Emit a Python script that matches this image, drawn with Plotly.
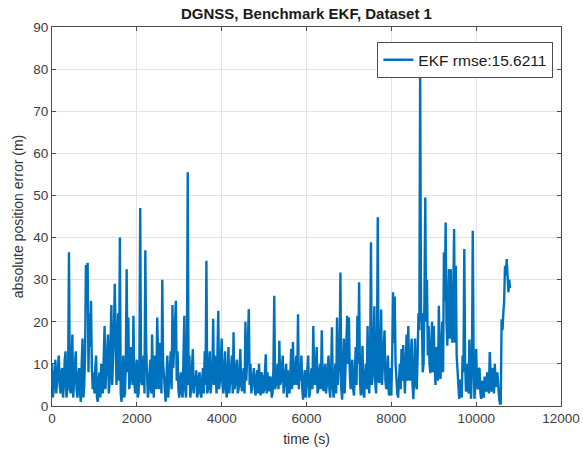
import numpy as np
import plotly.graph_objects as go

# absolute position error.
# err_* : value every 40 s (starting at t = 0)
# mid_* : value in between, at t + 20 s
step_s = 20

err_0_1000 = [10, 4, 11, 6, 12, 3, 9, 5, 13, 4, 36.5, 3, 17, 6, 13, 2, 9, 1, 16, 5, 33.5, 34, 22, 25, 4]
mid_0_1000 = [2, 9, 3, 10, 5, 8, 2, 11, 2, 8, 4, 10, 2, 9, 4, 7, 3, 10, 2, 12, 32, 8, 14, 9, 8]
err_1000_2000 = [3, 12, 1, 8, 10, 3, 19, 8, 17, 6, 24, 10, 29, 5, 22, 40, 1, 12, 3, 32.5, 21, 6, 13, 21.4, 3]
mid_1000_2000 = [9, 2, 6, 2, 5, 12, 4, 14, 3, 15, 5, 18, 8, 15, 6, 3, 7, 2, 10, 8, 4, 14, 5, 6, 8]
err_2000_3000 = [11, 3, 47, 5, 12, 37, 9, 4, 11, 17, 2, 9, 21, 4, 12, 30, 6, 1, 12, 6, 13, 24, 14, 25, 13]
mid_2000_3000 = [2, 10, 6, 9, 3, 14, 2, 8, 3, 6, 12, 4, 8, 15, 3, 10, 3, 7, 2, 9, 4, 9, 20, 6, 4]
err_3000_4000 = [2, 8, 2, 21.4, 2, 55.5, 12, 4, 13.5, 6, 8.5, 3, 8, 2, 9, 13, 34.5, 4, 13, 6, 20.7, 12, 3, 22.6, 6]
mid_3000_4000 = [6, 3, 12, 4, 9, 5, 2, 9, 3, 5, 2, 7, 3, 6, 3, 5, 3, 9, 3, 8, 5, 7, 12, 4, 10]
err_4000_5000 = [16, 3, 13, 2, 14, 6, 12, 17.5, 5, 11, 4, 13.5, 3.5, 9, 20, 10, 23, 10, 5, 9, 2.5, 8.5, 10, 2.5, 7]
mid_4000_5000 = [5, 9, 4, 8, 3, 10, 3, 4, 9, 3, 8, 5, 7, 3, 6, 16, 5, 3, 8, 4, 7, 3, 5, 8, 3]
err_5000_6000 = [4, 12.3, 8, 3.5, 6.5, 3, 26.2, 5, 10, 15.5, 6, 12, 5, 10, 8.5, 3, 13.5, 15.2, 5, 12, 21.8, 10, 12, 1.5, 8.5]
mid_5000_6000 = [8, 3, 5, 7, 2, 9, 4, 8, 4, 5, 9, 3, 8, 2, 5, 8, 4, 6, 9, 5, 4, 6, 4, 6, 2]
err_6000_7000 = [5, 12, 3, 9, 19, 5, 14, 4, 10, 18, 3.5, 10, 5, 12, 2, 18.7, 2, 10, 21, 8, 31.7, 1.5, 16, 8, 21.4]
mid_6000_7000 = [9, 2, 7, 4, 8, 9, 3, 8, 4, 6, 8, 3, 9, 4, 8, 5, 6, 3, 5, 12, 4, 8, 3, 12, 10]
err_7000_8000 = [21, 4, 11, 2.5, 14, 21.4, 29.4, 2.5, 14.3, 2, 10, 19, 3, 38.9, 7, 23.7, 3, 44.8, 5.5, 22.9, 10, 18, 4, 12, 2.5]
mid_7000_8000 = [8, 9, 4, 8, 5, 10, 6, 9, 3, 7, 4, 8, 12, 5, 14, 6, 10, 6, 12, 5, 14, 6, 8, 3, 9]
err_8000_9000 = [2.5, 27, 26, 5, 2, 10, 13.5, 14.5, 3, 17, 19, 6, 16, 1.6, 16, 4, 22, 81.5, 22, 10, 49.5, 30, 19, 7.8, 20]
mid_8000_9000 = [12, 15, 10, 3, 7, 4, 6, 8, 10, 6, 9, 12, 5, 9, 5, 12, 18, 20, 8, 25, 20, 12, 10, 14, 8]
err_9000_10000 = [19, 5, 12, 23.8, 6.4, 20, 36.5, 43.6, 14.3, 32.5, 32.5, 15, 42, 33.3, 8, 1.7, 6, 12, 37.3, 3.4, 10, 15.8, 1.7, 41.6, 1.7]
mid_9000_10000 = [10, 14, 6, 12, 14, 8, 25, 20, 25, 16, 20, 26, 15, 12, 3, 6, 2, 8, 10, 8, 3, 6, 10, 12, 6]
err_10000_end = [13.5, 4, 8.8, 1.7, 5, 7, 3.4, 6, 12.8, 3.4, 8, 10, 4.6, 3.4, 0.6, 20.6, 22, 33.3, 34.9, 27, 28]
mid_10000_end = [5, 9, 3, 6, 2, 5, 8, 3, 5, 9, 3, 5, 8, 2, 0.6, 18, 25, 31, 29, 30]

err = (err_0_1000 + err_1000_2000 + err_2000_3000 + err_3000_4000 + err_4000_5000
       + err_5000_6000 + err_6000_7000 + err_7000_8000 + err_8000_9000
       + err_9000_10000 + err_10000_end)
mid = (mid_0_1000 + mid_1000_2000 + mid_2000_3000 + mid_3000_4000 + mid_4000_5000
       + mid_5000_6000 + mid_6000_7000 + mid_7000_8000 + mid_8000_9000
       + mid_9000_10000 + mid_10000_end)

y = np.empty(len(err) + len(mid))
y[0::2] = err
y[1::2] = mid
t = np.arange(len(y)) * step_s

x_ticks = [0, 2000, 4000, 6000, 8000, 10000, 12000]
y_ticks = [0, 10, 20, 30, 40, 50, 60, 70, 80, 90]
rmse_label = "EKF rmse:15.6211"

FONT = "Liberation Sans, Arial, sans-serif"

fig = go.Figure()
fig.add_trace(go.Scatter(
    x=t, y=y, mode="lines", name=rmse_label,
    line=dict(color="#0072BD", width=2.4),
))

axis_style = dict(
    showgrid=True, gridcolor="#e3e3e3", gridwidth=1,
    showline=True, linecolor="#4d4d4d", linewidth=1, mirror="ticks",
    ticks="inside", ticklen=4, tickcolor="#4d4d4d",
    zeroline=False, automargin=False,
    tickfont=dict(family=FONT, size=13.5, color="#404040"),
)

fig.update_xaxes(range=[0, 12000], tickvals=x_ticks, ticktext=[str(v) for v in x_ticks],
                 title=dict(text="time (s)", standoff=8,
                            font=dict(family=FONT, size=14, color="#333333")),
                 **axis_style)
fig.update_yaxes(range=[0, 90], tickvals=y_ticks, ticktext=[str(v) for v in y_ticks],
                 title=dict(text="absolute position error (m)", standoff=6,
                            font=dict(family=FONT, size=14, color="#333333")),
                 **axis_style)

fig.update_layout(
    width=583, height=454,
    margin=dict(l=52, r=22, t=27, b=48),
    paper_bgcolor="white", plot_bgcolor="white",
    title=dict(text="<b>DGNSS, Benchmark EKF, Dataset 1</b>", x=0.5, xanchor="center",
               xref="paper", y=0.969, yanchor="middle",
               font=dict(family=FONT, size=15, color="#1a1a1a")),
    showlegend=True,
    legend=dict(x=0.985, y=0.96, xanchor="right", yanchor="top",
                bgcolor="white", bordercolor="#4d4d4d", borderwidth=1,
                font=dict(family=FONT, size=15.5, color="#1a1a1a")),
)

# drop the browser's default 8px page margin so the figure sits at the top-left corner
fig.write_html("out.html", config={"displayModeBar": False},
               post_script="document.body.style.margin = '0';")
